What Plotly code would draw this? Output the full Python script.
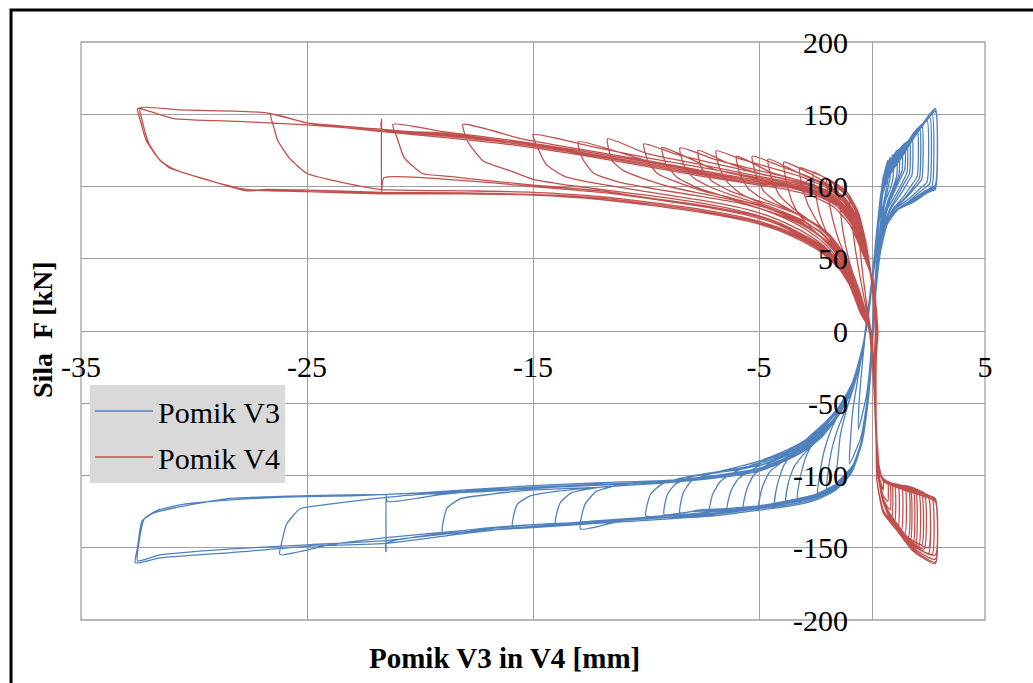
import plotly.graph_objects as go

# ---------------- data ----------------
# Axis settings / tick labels
x_ticks = [-35, -25, -15, -5, 5]
y_ticks = [200, 150, 100, 50, 0, -50, -100, -150, -200]

# Pomik V4 (red): each cycle = list of (displacement [mm], force [kN]) key points
V4_C01 = [(0.15, 0), (0.02, 30), (-0.25, 55), (-0.6, 72), (-0.55, 60), (-0.4, 38), (-0.2, 15), (-0.05, 0),
          (0.08, -35), (0.2, -72), (0.3, -92), (0.25, -85), (0.15, -50), (0.12, -15)]
V4_C02 = [(0.15, 0), (0.0, 32), (-0.25, 60), (-0.6, 82), (-1.0, 93), (-0.92, 80), (-0.75, 58), (-0.5, 35),
          (-0.25, 15), (-0.05, 0), (0.08, -38), (0.2, -78), (0.35, -97), (0.5, -104), (0.5, -110), (0.35, -103),
          (0.2, -80), (0.12, -40), (0.12, -12)]
V4_C03 = [(0.16, 0), (0.0, 32), (-0.27, 60), (-0.65, 82), (-1.0, 92), (-1.5, 101), (-1.42, 86), (-1.25, 66),
          (-1.0, 48), (-0.6, 28), (-0.3, 12), (-0.08, 0), (0.08, -38), (0.2, -80), (0.35, -98), (0.55, -103),
          (0.7, -105), (0.7, -118), (0.5, -114), (0.3, -100), (0.17, -70), (0.12, -30), (0.13, -8)]
V4_C03B = [(0.17, 0), (0.01, 34), (-0.28, 62), (-0.66, 84), (-1.1, 96), (-1.5, 101), (-2.0, 105), (-1.92, 92),
           (-1.75, 78), (-1.45, 62), (-1.0, 46), (-0.55, 25), (-0.12, 0), (0.08, -38), (0.2, -80), (0.36, -99),
           (0.6, -104), (0.8, -106), (0.8, -124), (0.55, -118), (0.32, -104), (0.18, -75), (0.13, -35),
           (0.15, -8)]
V4_C04 = [(0.17, 0), (0.0, 32), (-0.3, 60), (-0.7, 82), (-1.1, 93), (-1.8, 103), (-2.6, 110), (-2.5, 96),
          (-2.3, 80), (-2.0, 68), (-1.5, 55), (-1.0, 40), (-0.5, 20), (-0.1, 0), (0.08, -38), (0.2, -80),
          (0.37, -99), (0.6, -104), (0.88, -106), (0.88, -129), (0.6, -121), (0.35, -108), (0.2, -80),
          (0.13, -40), (0.14, -10)]
V4_C04B = [(0.18, 0), (0.0, 34), (-0.3, 60), (-0.7, 82), (-1.15, 94), (-1.8, 104), (-2.5, 109), (-3.2, 113),
           (-3.1, 101), (-2.85, 88), (-2.4, 75), (-1.8, 63), (-1.2, 49), (-0.7, 31), (-0.3, 12), (-0.08, 0),
           (0.08, -38), (0.21, -82), (0.38, -100), (0.65, -105), (1.0, -107), (1.0, -132), (0.7, -125),
           (0.4, -112), (0.22, -90), (0.14, -50), (0.14, -15)]
V4_C05 = [(0.18, 0), (0.0, 33), (-0.3, 58), (-0.7, 80), (-1.2, 92), (-2.0, 102), (-3.0, 111), (-3.9, 117),
          (-3.8, 104), (-3.55, 90), (-3.2, 80), (-2.6, 70), (-2.0, 61), (-1.4, 50), (-0.9, 36), (-0.45, 18),
          (-0.1, 0), (0.08, -38), (0.21, -82), (0.4, -100), (0.7, -105), (1.15, -107), (1.15, -136),
          (0.8, -128), (0.45, -116), (0.25, -97), (0.15, -60), (0.13, -25), (0.16, -5)]
V4_C05B = [(0.19, 0), (0.01, 33), (-0.31, 58), (-0.76, 80), (-1.3, 92), (-2.1, 101), (-3.2, 109), (-4.6, 119),
           (-4.45, 106), (-4.1, 94), (-3.5, 85), (-2.8, 77), (-2.1, 69), (-1.4, 57), (-0.85, 40), (-0.4, 20),
           (-0.1, 0), (0.08, -38), (0.22, -83), (0.42, -101), (0.8, -105), (1.3, -107), (1.3, -138),
           (0.9, -130), (0.5, -119), (0.26, -98), (0.15, -60), (0.14, -22), (0.17, -5)]
V4_C06 = [(0.19, 0), (0.02, 33), (-0.3, 58), (-0.75, 80), (-1.25, 92), (-2.0, 101), (-3.0, 108), (-4.2, 115),
          (-5.3, 121), (-5.15, 109), (-4.8, 97), (-4.2, 89), (-3.4, 82), (-2.6, 75), (-1.9, 67), (-1.3, 55),
          (-0.8, 38), (-0.4, 18), (-0.1, 0), (0.08, -38), (0.22, -83), (0.42, -101), (0.8, -105), (1.2, -107),
          (1.46, -108), (1.46, -140), (1.0, -131), (0.55, -120), (0.28, -100), (0.16, -62), (0.14, -25),
          (0.17, -5)]
V4_C06B = [(0.2, 0), (0.03, 33), (-0.34, 56), (-0.8, 77), (-1.35, 89), (-2.1, 97), (-3.2, 104), (-4.5, 110),
           (-6.0, 121), (-5.85, 109), (-5.5, 99), (-4.9, 92), (-4.0, 86), (-3.1, 79), (-2.3, 71), (-1.6, 60),
           (-1.0, 44), (-0.5, 22), (-0.1, 0), (0.08, -38), (0.23, -85), (0.44, -102), (0.9, -106), (1.6, -108),
           (1.6, -143), (1.1, -135), (0.6, -123), (0.28, -101), (0.16, -62), (0.15, -25), (0.18, -5)]
V4_C07 = [(0.2, 0), (0.02, 33), (-0.32, 57), (-0.78, 79), (-1.3, 91), (-2.0, 99), (-3.0, 106), (-4.5, 113),
          (-5.8, 119), (-6.9, 124.6), (-6.75, 113), (-6.4, 103), (-5.8, 95), (-5.0, 89), (-4.0, 83), (-3.0, 76),
          (-2.2, 67), (-1.5, 55), (-0.9, 38), (-0.45, 18), (-0.1, 0), (0.08, -38), (0.23, -85), (0.45, -102),
          (0.9, -106), (1.68, -109), (1.68, -147), (1.2, -138), (0.6, -123), (0.28, -102), (0.16, -62),
          (0.15, -25), (0.18, -5)]
V4_C07B = [(0.21, 0), (0.03, 33), (-0.35, 56), (-0.82, 77), (-1.4, 89), (-2.2, 97), (-3.3, 103), (-5.0, 109),
           (-6.5, 117), (-7.7, 125), (-7.55, 113), (-7.1, 104), (-6.3, 97), (-5.2, 91), (-4.2, 86), (-3.2, 80),
           (-2.3, 72), (-1.6, 61), (-1.0, 45), (-0.5, 23), (-0.1, 0), (0.09, -38), (0.24, -86), (0.46, -102),
           (1.0, -106), (1.8, -109), (1.8, -149), (1.2, -139), (0.65, -125), (0.3, -104), (0.17, -63),
           (0.16, -25), (0.19, -5)]
V4_C08 = [(0.2, 0), (0.03, 33), (-0.33, 57), (-0.8, 78), (-1.3, 90), (-2.1, 98), (-3.2, 104), (-5.0, 111),
          (-7.0, 119), (-8.5, 126.7), (-8.3, 114), (-7.9, 106), (-7.2, 100), (-6.2, 94), (-5.2, 89), (-4.2, 83),
          (-3.2, 76), (-2.3, 66), (-1.6, 55), (-1.0, 40), (-0.5, 20), (-0.1, 0), (0.09, -38), (0.24, -86),
          (0.46, -102), (1.0, -106), (1.9, -109), (1.9, -152), (1.3, -141), (0.7, -127), (0.3, -104),
          (0.17, -63), (0.16, -25), (0.19, -5)]
V4_C08B = [(0.21, 0), (0.04, 33), (-0.36, 56), (-0.83, 77), (-1.4, 88), (-2.2, 95), (-3.3, 100), (-5.0, 105),
           (-7.0, 112), (-9.3, 127), (-9.1, 115), (-8.6, 106), (-7.7, 99), (-6.5, 93), (-5.3, 88), (-4.2, 83),
           (-3.2, 77), (-2.3, 69), (-1.6, 58), (-1.0, 43), (-0.5, 22), (-0.1, 0), (0.09, -38), (0.24, -86),
           (0.47, -102), (1.1, -107), (2.05, -111), (2.05, -150), (1.4, -141), (0.75, -128), (0.33, -106),
           (0.18, -64), (0.17, -25), (0.2, -5)]
V4_C09 = [(0.21, 0), (0.03, 33), (-0.35, 57), (-0.8, 78), (-1.35, 89), (-2.1, 97), (-3.2, 103), (-5.0, 109),
          (-7.0, 116), (-8.8, 123), (-10.1, 129.5), (-9.9, 117), (-9.5, 109), (-8.8, 104), (-7.5, 97),
          (-6.2, 92), (-5.0, 87), (-4.0, 81), (-3.0, 73), (-2.2, 64), (-1.5, 52), (-0.95, 38), (-0.5, 19),
          (-0.1, 0), (0.09, -38), (0.24, -86), (0.48, -103), (1.1, -107), (1.9, -109), (2.2, -112),
          (2.2, -148), (1.5, -142), (0.8, -130), (0.35, -108), (0.18, -65), (0.17, -25), (0.2, -5)]
V4_C10 = [(0.22, 0), (0.04, 34), (-0.35, 56), (-0.82, 77), (-1.4, 89), (-2.2, 96), (-3.3, 102), (-5.0, 107),
          (-7.5, 115), (-10.0, 123), (-11.7, 133), (-11.5, 118), (-11.0, 111), (-10.2, 106), (-9.0, 100),
          (-7.5, 95), (-6.0, 90), (-5.0, 85), (-4.0, 79), (-3.0, 71), (-2.2, 62), (-1.5, 50), (-1.0, 38),
          (-0.5, 18), (-0.08, 0), (0.09, -38), (0.25, -87), (0.5, -103), (1.2, -107), (2.0, -110),
          (2.5, -115), (2.5, -154), (1.7, -146), (0.9, -133), (0.4, -112), (0.2, -70), (0.18, -25), (0.21, -5)]
V4_C10B = [(0.23, 0), (0.05, 34), (-0.37, 55), (-0.86, 76), (-1.45, 87), (-2.3, 94), (-3.4, 99), (-5.0, 103),
           (-7.5, 110), (-10.0, 118), (-13.0, 131), (-12.8, 119), (-12.3, 109), (-11.2, 103), (-9.5, 98),
           (-7.5, 93), (-6.0, 89), (-4.8, 84), (-3.7, 78), (-2.7, 70), (-1.9, 61), (-1.2, 48), (-0.6, 27),
           (-0.12, 0), (0.1, -38), (0.25, -87), (0.5, -104), (1.3, -108), (2.3, -112), (2.3, -151),
           (1.6, -144), (0.85, -131), (0.38, -110), (0.2, -68), (0.18, -25), (0.22, -5)]
V4_C11 = [(0.22, 0), (0.04, 34), (-0.36, 56), (-0.85, 77), (-1.4, 88), (-2.2, 96), (-3.3, 101), (-5.0, 106),
          (-7.5, 113), (-10.0, 120), (-12.5, 128), (-15.0, 136), (-14.8, 127), (-14.4, 115), (-13.6, 107),
          (-12.5, 103), (-11.0, 99), (-9.0, 94), (-7.0, 89), (-5.5, 84), (-4.3, 78), (-3.2, 70), (-2.3, 61),
          (-1.5, 49), (-1.0, 37), (-0.5, 17), (-0.06, 0), (0.1, -38), (0.25, -87), (0.5, -104), (1.3, -108),
          (2.1, -111), (2.5, -114), (2.5, -150), (1.7, -144), (0.9, -132), (0.4, -112), (0.2, -70),
          (0.18, -25), (0.22, -5)]
V4_C12 = [(0.23, 0), (0.05, 34), (-0.37, 56), (-0.87, 76), (-1.45, 88), (-2.3, 95), (-3.4, 100), (-5.0, 104),
          (-7.5, 111), (-10.0, 118), (-13.0, 126), (-15.5, 133), (-18.1, 143), (-17.9, 131.5), (-17.2, 117.6),
          (-16.0, 110.8), (-15.0, 105), (-13.0, 100), (-11.0, 96), (-9.0, 92), (-7.0, 87), (-5.5, 82),
          (-4.3, 76), (-3.2, 68), (-2.3, 60), (-1.5, 48), (-1.0, 36), (-0.5, 16), (-0.05, 0), (0.1, -38),
          (0.25, -88), (0.5, -104), (1.4, -108), (2.2, -112), (2.65, -115), (2.65, -155), (1.8, -148),
          (1.0, -135), (0.45, -115), (0.2, -72), (0.18, -25), (0.22, -5)]
V4_C13 = [(0.24, 0), (0.05, 34), (-0.38, 55), (-0.9, 76), (-1.5, 88), (-2.3, 95), (-3.5, 100), (-5.0, 103),
          (-7.5, 110), (-10.0, 117), (-13.0, 125), (-16.0, 132), (-19.0, 138), (-21.2, 143), (-21.0, 133),
          (-20.7, 120), (-19.9, 109), (-18.7, 107), (-17.0, 104), (-15.0, 101), (-12.0, 97), (-9.8, 92),
          (-7.5, 87), (-5.5, 81), (-4.2, 75), (-3.2, 67), (-2.3, 59), (-1.5, 47), (-1.0, 35), (-0.5, 15),
          (-0.05, 0), (0.1, -38), (0.26, -88), (0.5, -104), (1.5, -109), (2.3, -113), (2.8, -116), (2.8, -158),
          (1.8, -150), (0.9, -133), (0.5, -124), (0.22, -104), (0.18, -60), (0.18, -20), (0.22, -5)]
V4_C14 = [(0.24, 0), (0.06, 34), (-0.38, 55), (-0.9, 75), (-1.5, 87), (-2.4, 94), (-3.5, 99), (-5.0, 103),
          (-7.5, 109), (-10.0, 116), (-13.0, 124), (-16.0, 131), (-19.0, 137), (-21.7, 140), (-21.7, 146.7),
          (-21.7, 96), (-21.6, 106), (-18.0, 104), (-15.0, 100), (-12.0, 96), (-10.0, 92), (-7.5, 86),
          (-5.5, 80), (-4.2, 74), (-3.2, 66), (-2.3, 58), (-1.5, 46), (-1.0, 34), (-0.5, 14), (-0.04, 0),
          (0.1, -38), (0.26, -88), (0.5, -104), (1.5, -109), (2.3, -113), (2.8, -117), (2.8, -155),
          (1.8, -149), (1.0, -136), (0.5, -125), (0.22, -104), (0.18, -60), (0.18, -20), (0.23, -5)]
V4_C15 = [(0.25, 0), (0.06, 34), (-0.4, 55), (-0.9, 75), (-1.5, 87), (-2.4, 94), (-3.5, 99), (-5.0, 103),
          (-7.5, 109), (-10.0, 116), (-13.0, 124), (-16.0, 131), (-19.0, 136), (-22.0, 140), (-25.0, 144),
          (-26.6, 150), (-26.45, 140), (-26.3, 132), (-25.8, 120), (-25.0, 109), (-23.8, 104), (-21.8, 98),
          (-18.0, 97), (-15.0, 96), (-12.0, 93), (-9.8, 89), (-7.5, 84), (-5.5, 78), (-4.2, 72), (-3.2, 65),
          (-2.3, 57), (-1.5, 46), (-1.0, 34), (-0.5, 14), (-0.04, 0), (0.1, -38), (0.26, -88), (0.5, -104),
          (1.6, -110), (2.4, -114), (2.8, -117), (2.8, -160), (1.8, -151), (1.1, -138), (0.5, -126),
          (0.22, -104), (0.18, -60), (0.18, -20), (0.24, -5)]
V4_C16 = [(0.25, 0), (0.07, 34), (-0.4, 55), (-0.95, 75), (-1.6, 87), (-2.5, 94), (-3.6, 99), (-5.0, 102),
          (-7.5, 108), (-10.0, 115), (-13.0, 123), (-16.0, 130), (-19.0, 135), (-22.0, 139), (-25.0, 142.6),
          (-28.0, 145), (-30.9, 147), (-32.5, 154), (-32.4, 147), (-32.1, 131.5), (-31.6, 120), (-31.1, 113),
          (-29.7, 106), (-27.7, 97), (-26.8, 98), (-25.0, 97.5), (-21.7, 96), (-18.0, 95.5), (-15.0, 94.5),
          (-12.0, 92), (-9.8, 88), (-7.5, 83), (-5.5, 77), (-4.2, 71), (-3.2, 64), (-2.3, 56), (-1.5, 45),
          (-1.0, 33), (-0.5, 13), (-0.03, 0), (0.1, -38), (0.26, -88), (0.5, -104), (1.6, -111), (2.4, -115),
          (2.8, -118), (2.8, -161), (1.8, -152), (1.1, -138), (0.5, -126), (0.22, -104), (0.18, -60),
          (0.18, -20), (0.25, -5)]
V4_C17 = [(0.26, 0), (0.07, 33), (-0.42, 54), (-1.0, 74), (-1.7, 86), (-2.6, 93), (-3.8, 98), (-5.0, 101),
          (-7.5, 107), (-10.0, 114), (-13.0, 122), (-16.0, 129), (-19.0, 134), (-22.0, 138.5), (-25.0, 144),
          (-26.8, 151), (-30.6, 153), (-32.4, 154.4), (-32.3, 146), (-32.0, 130), (-31.5, 118), (-30.9, 112),
          (-29.5, 105), (-27.7, 98), (-25.0, 96.5), (-21.7, 95), (-18.0, 95), (-15.0, 94), (-12.0, 91),
          (-9.8, 87), (-7.5, 82), (-5.5, 76), (-4.2, 70), (-3.2, 63), (-2.3, 55), (-1.5, 44), (-1.0, 32),
          (-0.5, 12), (-0.02, 0)]

# Pomik V3 (blue): each cycle = list of (displacement [mm], force [kN]) key points
V3_C01 = [(-0.25, 0), (-0.08, 20), (0.08, 45), (0.22, 70), (0.35, 88), (0.32, 78), (0.22, 55), (0.12, 30),
          (0.03, 5), (-0.08, -22), (-0.25, -45), (-0.6, -68), (-0.58, -52), (-0.5, -35), (-0.4, -18), (-0.3, -3)]
V3_C02 = [(-0.2, 12), (0.02, 38), (0.18, 64), (0.33, 86), (0.5, 108), (0.46, 95), (0.38, 75), (0.25, 52),
          (0.13, 28), (0.04, 5), (-0.06, -22), (-0.22, -48), (-0.5, -74), (-1.0, -92), (-0.95, -75),
          (-0.85, -55), (-0.65, -35), (-0.42, -14), (-0.3, 0)]
V3_C03 = [(-0.18, 14), (0.03, 40), (0.19, 66), (0.35, 90), (0.5, 106), (0.7, 118), (0.7, 104), (0.6, 96),
          (0.45, 82), (0.3, 60), (0.15, 32), (0.05, 6), (-0.05, -22), (-0.2, -50), (-0.45, -76), (-0.85, -93),
          (-1.6, -105), (-1.52, -90), (-1.4, -72), (-1.15, -56), (-0.85, -40), (-0.5, -20), (-0.3, -2)]
V3_C03B = [(-0.18, 14), (0.03, 41), (0.2, 67), (0.36, 90), (0.52, 105), (0.8, 120), (0.8, 106), (0.68, 97),
           (0.52, 84), (0.33, 62), (0.16, 33), (0.05, 6), (-0.05, -24), (-0.22, -52), (-0.5, -78), (-0.9, -95),
           (-1.4, -104), (-2.0, -110), (-1.92, -95), (-1.75, -80), (-1.45, -65), (-1.05, -50), (-0.7, -33),
           (-0.45, -15), (-0.3, -2)]
V3_C04 = [(-0.17, 15), (0.04, 42), (0.2, 68), (0.36, 90), (0.52, 105), (0.75, 116), (0.93, 122), (0.93, 106),
          (0.8, 98), (0.6, 90), (0.45, 78), (0.3, 58), (0.15, 32), (0.05, 6), (-0.05, -22), (-0.2, -50),
          (-0.45, -76), (-0.85, -93), (-1.5, -105), (-2.4, -114), (-2.3, -98), (-2.1, -82), (-1.8, -68),
          (-1.3, -52), (-0.85, -37), (-0.5, -18), (-0.3, -2)]
V3_C05 = [(-0.16, 16), (0.05, 43), (0.21, 69), (0.37, 91), (0.55, 106), (0.8, 116), (1.1, 125), (1.1, 108),
          (0.95, 100), (0.7, 90), (0.5, 78), (0.32, 58), (0.16, 32), (0.05, 6), (-0.05, -22), (-0.2, -50),
          (-0.46, -77), (-0.85, -94), (-1.5, -106), (-2.4, -113), (-3.3, -118), (-3.2, -103), (-2.95, -88),
          (-2.5, -74), (-1.9, -62), (-1.3, -50), (-0.85, -36), (-0.5, -17), (-0.3, -2)]
V3_C05B = [(-0.16, 16), (0.05, 43), (0.21, 69), (0.37, 91), (0.55, 106), (0.85, 117), (1.2, 126), (1.2, 109),
           (1.02, 101), (0.75, 91), (0.52, 78), (0.33, 58), (0.16, 32), (0.05, 6), (-0.05, -23), (-0.21, -52),
           (-0.48, -79), (-0.9, -97), (-1.6, -108), (-2.6, -115), (-3.8, -119), (-3.7, -105), (-3.45, -94),
           (-2.95, -84), (-2.3, -74), (-1.6, -61), (-1.0, -45), (-0.55, -24), (-0.3, -3)]
V3_C06 = [(-0.15, 17), (0.06, 44), (0.22, 70), (0.38, 92), (0.56, 106), (0.85, 117), (1.1, 123), (1.33, 128),
          (1.33, 111), (1.15, 104), (0.9, 95), (0.65, 86), (0.48, 74), (0.32, 56), (0.16, 30), (0.05, 5),
          (-0.05, -22), (-0.21, -50), (-0.47, -77), (-0.87, -94), (-1.5, -106), (-2.4, -113), (-3.4, -117),
          (-4.3, -121), (-4.2, -107), (-3.9, -93), (-3.4, -82), (-2.7, -72), (-2.0, -62), (-1.35, -50),
          (-0.85, -35), (-0.5, -16), (-0.3, -2)]
V3_C06B = [(-0.15, 17), (0.06, 44), (0.22, 70), (0.39, 92), (0.57, 106), (0.9, 118), (1.45, 130), (1.45, 112),
           (1.25, 105), (0.95, 95), (0.68, 86), (0.5, 74), (0.32, 56), (0.16, 30), (0.05, 5), (-0.05, -24),
           (-0.22, -53), (-0.5, -80), (-0.95, -99), (-1.7, -110), (-2.7, -116), (-3.8, -119), (-5.0, -122),
           (-4.85, -108), (-4.55, -98), (-4.0, -91), (-3.2, -84), (-2.4, -75), (-1.7, -63), (-1.1, -47),
           (-0.6, -26), (-0.3, -3)]
V3_C07 = [(-0.14, 18), (0.07, 45), (0.23, 71), (0.4, 93), (0.58, 106), (0.9, 117), (1.2, 124), (1.55, 131),
          (1.55, 110), (1.35, 103), (1.0, 93), (0.7, 85), (0.5, 73), (0.32, 55), (0.16, 30), (0.05, 5),
          (-0.05, -22), (-0.21, -50), (-0.48, -77), (-0.9, -95), (-1.6, -106), (-2.5, -113), (-3.5, -117),
          (-4.6, -120), (-5.7, -123.5), (-5.55, -110), (-5.25, -100), (-4.6, -92), (-3.8, -84), (-3.0, -76),
          (-2.2, -66), (-1.5, -53), (-0.9, -37), (-0.5, -17), (-0.3, -2)]
V3_C07B = [(-0.14, 18), (0.07, 45), (0.23, 71), (0.4, 93), (0.59, 106), (0.95, 117), (1.3, 125), (1.66, 132),
           (1.66, 109), (1.45, 103), (1.1, 93), (0.8, 85), (0.53, 73), (0.33, 55), (0.17, 30), (0.06, 5),
           (-0.04, -24), (-0.21, -53), (-0.5, -80), (-0.95, -99), (-1.7, -110), (-2.7, -116), (-3.8, -119),
           (-5.0, -122), (-6.4, -124), (-6.25, -111), (-5.9, -102), (-5.2, -95), (-4.3, -89), (-3.4, -82),
           (-2.5, -73), (-1.7, -61), (-1.05, -45), (-0.55, -23), (-0.3, -2)]
V3_C08 = [(-0.13, 18), (0.08, 45), (0.24, 71), (0.41, 93), (0.6, 106), (0.95, 117), (1.35, 126), (1.77, 134),
          (1.77, 108), (1.55, 102), (1.2, 93), (0.85, 85), (0.55, 73), (0.33, 55), (0.17, 30), (0.06, 5),
          (-0.04, -22), (-0.2, -50), (-0.48, -77), (-0.9, -95), (-1.6, -106), (-2.5, -113), (-3.6, -117),
          (-5.0, -121), (-6.2, -124), (-7.2, -127), (-7.05, -113), (-6.7, -104), (-6.0, -97), (-5.0, -91),
          (-4.0, -85), (-3.0, -77), (-2.2, -67), (-1.5, -54), (-0.9, -38), (-0.5, -18), (-0.3, -2)]
V3_C09 = [(-0.12, 19), (0.09, 46), (0.25, 72), (0.42, 93), (0.62, 106), (1.0, 118), (1.5, 129), (2.0, 140),
          (2.0, 107), (1.75, 101), (1.4, 93), (0.95, 85), (0.6, 74), (0.34, 55), (0.17, 30), (0.06, 5),
          (-0.04, -22), (-0.2, -50), (-0.47, -77), (-0.9, -96), (-1.6, -107), (-2.5, -114), (-3.6, -118),
          (-5.0, -121), (-6.5, -123), (-7.7, -124), (-8.5, -126), (-8.35, -112), (-8.0, -104), (-7.2, -99),
          (-6.2, -95), (-5.0, -90), (-4.0, -84), (-3.0, -76), (-2.2, -66), (-1.5, -53), (-0.9, -37),
          (-0.5, -17), (-0.3, -2)]
V3_C09B = [(-0.12, 19), (0.09, 46), (0.26, 72), (0.43, 93), (0.63, 106), (1.0, 118), (1.55, 130), (2.1, 141),
           (2.1, 106), (1.85, 100), (1.45, 92), (1.0, 85), (0.62, 74), (0.35, 55), (0.18, 30), (0.07, 5),
           (-0.03, -23), (-0.19, -51), (-0.46, -78), (-0.9, -97), (-1.6, -108), (-2.5, -115), (-3.6, -119),
           (-5.0, -122), (-6.5, -124), (-8.0, -125), (-9.2, -127), (-9.05, -113), (-8.7, -106), (-8.0, -101),
           (-6.8, -98), (-5.6, -95), (-4.5, -91), (-3.5, -84), (-2.6, -75), (-1.8, -63), (-1.1, -46),
           (-0.55, -22), (-0.3, -2)]
V3_C10 = [(-0.12, 19), (0.09, 46), (0.26, 72), (0.43, 93), (0.64, 106), (1.05, 118), (1.6, 131), (2.2, 143),
          (2.2, 105), (1.95, 100), (1.5, 92), (1.0, 85), (0.62, 74), (0.35, 55), (0.18, 30), (0.07, 5),
          (-0.03, -22), (-0.19, -50), (-0.46, -77), (-0.9, -96), (-1.6, -107), (-2.5, -114), (-3.6, -118),
          (-5.0, -121), (-6.5, -123), (-8.0, -125), (-10.0, -128), (-9.8, -113), (-9.3, -106), (-8.5, -102),
          (-7.5, -99), (-6.2, -96), (-5.0, -92), (-4.0, -86), (-3.0, -78), (-2.2, -68), (-1.5, -55),
          (-0.9, -39), (-0.5, -18), (-0.3, -2)]
V3_C11 = [(-0.11, 20), (0.1, 47), (0.27, 73), (0.44, 94), (0.66, 106), (1.1, 118), (1.7, 132), (2.43, 146),
          (2.43, 103), (2.15, 99), (1.6, 91), (1.05, 85), (0.64, 74), (0.36, 55), (0.18, 30), (0.07, 5),
          (-0.03, -22), (-0.19, -50), (-0.45, -77), (-0.9, -97), (-1.6, -108), (-2.5, -115), (-3.6, -119),
          (-5.0, -122), (-7.0, -125), (-9.0, -128), (-11.0, -131), (-12.9, -137), (-12.7, -120), (-12.2, -111),
          (-11.0, -106), (-9.5, -104), (-8.0, -102), (-6.5, -99), (-5.0, -95), (-4.0, -89), (-3.0, -80),
          (-2.2, -70), (-1.5, -57), (-0.9, -40), (-0.5, -19), (-0.3, -2)]
V3_C11B = [(-0.11, 20), (0.1, 47), (0.27, 73), (0.45, 94), (0.67, 106), (1.12, 118), (1.8, 133), (2.55, 148),
           (2.55, 102), (2.25, 98), (1.65, 90), (1.08, 84), (0.65, 74), (0.36, 55), (0.18, 30), (0.07, 5),
           (-0.03, -23), (-0.19, -51), (-0.45, -78), (-0.9, -97), (-1.6, -108), (-2.5, -115), (-3.6, -119),
           (-5.0, -122), (-7.0, -125), (-9.0, -128), (-11.5, -131), (-14.0, -134), (-13.8, -119), (-13.3, -112),
           (-12.0, -108), (-10.0, -106), (-8.0, -103), (-6.5, -100), (-5.0, -95), (-4.0, -89), (-3.0, -81),
           (-2.2, -71), (-1.5, -57), (-0.9, -40), (-0.5, -19), (-0.3, -2)]
V3_C12 = [(-0.1, 20), (0.11, 47), (0.28, 73), (0.45, 94), (0.68, 106), (1.15, 118), (1.9, 135), (2.65, 150),
          (2.65, 100), (2.35, 97), (1.7, 90), (1.1, 84), (0.66, 74), (0.37, 55), (0.19, 30), (0.08, 5),
          (-0.02, -22), (-0.18, -50), (-0.44, -77), (-0.9, -97), (-1.6, -108), (-2.5, -115), (-3.6, -119),
          (-5.0, -122), (-7.0, -126), (-9.0, -128), (-11.0, -130), (-13.5, -133), (-15.9, -136),
          (-15.7, -120), (-15.1, -114), (-13.9, -110.8), (-12.0, -108), (-10.0, -106), (-8.4, -104),
          (-6.5, -100), (-5.0, -96), (-4.0, -90), (-3.0, -82), (-2.2, -72), (-1.5, -58), (-0.9, -41),
          (-0.5, -20), (-0.3, -2)]
V3_C13 = [(-0.1, 21), (0.11, 48), (0.28, 74), (0.46, 95), (0.7, 107), (1.2, 119), (2.0, 138), (2.8, 153),
          (2.8, 98), (2.5, 96), (1.8, 89), (1.15, 84), (0.68, 74), (0.38, 55), (0.19, 30), (0.08, 5),
          (-0.02, -22), (-0.18, -50), (-0.44, -77), (-0.9, -98), (-1.6, -109), (-2.5, -116), (-3.6, -120),
          (-5.0, -123), (-7.0, -127), (-9.0, -129), (-12.0, -132), (-15.0, -134), (-17.0, -137), (-19.0, -140),
          (-18.8, -122.5), (-18.2, -116), (-16.9, -113), (-15.0, -110), (-12.0, -108), (-10.0, -106),
          (-8.4, -104), (-6.5, -101), (-5.0, -97), (-4.0, -91), (-3.0, -83), (-2.2, -73), (-1.5, -59),
          (-0.9, -42), (-0.5, -21), (-0.3, -3)]
V3_C14 = [(-0.1, 21), (0.12, 48), (0.29, 74), (0.47, 95), (0.72, 107), (1.25, 119), (2.0, 137), (2.8, 152),
          (2.8, 101), (2.5, 98), (1.8, 90), (1.15, 84), (0.68, 74), (0.38, 55), (0.19, 30), (0.08, 5),
          (-0.02, -22), (-0.18, -50), (-0.44, -77), (-0.9, -98), (-1.6, -109), (-2.5, -116), (-3.6, -120),
          (-5.0, -123), (-7.0, -127), (-9.0, -129), (-12.0, -132), (-15.0, -134), (-18.0, -138),
          (-21.5, -147), (-21.5, -153), (-21.5, -113), (-21.45, -118), (-19.0, -113), (-16.0, -109),
          (-13.0, -107), (-10.0, -105), (-8.4, -103), (-6.5, -100), (-5.0, -96), (-4.0, -90), (-3.0, -82),
          (-2.2, -72), (-1.5, -58), (-0.9, -41), (-0.5, -20), (-0.3, -2)]
V3_C15 = [(-0.09, 22), (0.12, 48), (0.29, 74), (0.47, 95), (0.72, 107), (1.25, 119), (2.0, 138), (2.8, 153),
          (2.8, 99), (2.5, 97), (1.8, 89), (1.15, 84), (0.68, 74), (0.38, 55), (0.19, 30), (0.08, 5),
          (-0.02, -22), (-0.18, -50), (-0.44, -77), (-0.9, -98), (-1.6, -109), (-2.5, -116), (-3.6, -120),
          (-5.0, -123), (-7.0, -127), (-9.0, -129), (-12.0, -132), (-15.0, -134), (-18.0, -138),
          (-21.5, -143), (-24.0, -148), (-26.2, -154.6), (-26.1, -145), (-25.9, -133.6), (-25.3, -123),
          (-24.1, -120), (-22.0, -116), (-20.0, -113), (-17.0, -111), (-14.0, -108), (-11.0, -106),
          (-8.4, -103), (-6.5, -100), (-5.0, -96), (-4.0, -89), (-3.0, -81), (-2.2, -71), (-1.5, -57),
          (-0.9, -40), (-0.5, -20), (-0.3, -2)]
V3_C16 = [(-0.09, 22), (0.12, 48), (0.3, 74), (0.48, 95), (0.74, 107), (1.3, 120), (2.0, 138), (2.8, 154),
          (2.8, 98), (2.5, 96), (1.8, 89), (1.15, 84), (0.68, 74), (0.38, 55), (0.19, 30), (0.08, 5),
          (-0.02, -22), (-0.18, -50), (-0.44, -77), (-0.9, -98), (-1.6, -110), (-2.5, -117), (-3.6, -121),
          (-5.0, -124), (-7.0, -128), (-9.0, -130), (-12.0, -133), (-15.0, -135), (-18.0, -140),
          (-21.5, -147), (-25.0, -149), (-28.5, -153.5), (-31.5, -157), (-32.6, -160.4), (-32.5, -150),
          (-32.3, -131.5), (-31.8, -126), (-30.9, -122.5), (-28.5, -116), (-25.0, -114), (-21.5, -113),
          (-18.0, -111), (-15.0, -108), (-12.0, -106), (-8.4, -104), (-6.5, -101), (-5.0, -97), (-4.0, -90),
          (-3.0, -82), (-2.2, -72), (-1.5, -58), (-0.9, -41), (-0.5, -20), (-0.3, -2)]
V3_C17 = [(-0.08, 22), (0.13, 48), (0.3, 74), (0.48, 95), (0.75, 107), (1.3, 120), (2.0, 137), (2.8, 153),
          (2.8, 100), (2.5, 97), (1.8, 90), (1.15, 84), (0.68, 74), (0.38, 55), (0.19, 30), (0.08, 5),
          (-0.02, -22), (-0.18, -50), (-0.44, -77), (-0.9, -98), (-1.6, -110), (-2.5, -117), (-3.6, -121),
          (-5.0, -124), (-7.0, -128), (-9.0, -130), (-12.0, -133), (-15.0, -136), (-18.0, -139),
          (-21.5, -145), (-25.0, -148), (-28.5, -151), (-31.5, -155), (-32.5, -159), (-32.45, -148),
          (-32.2, -130), (-31.6, -124), (-30.5, -120), (-28.5, -117), (-26.0, -115), (-23.0, -114),
          (-20.0, -112), (-15.0, -107), (-12.0, -105), (-8.4, -103), (-6.5, -100), (-5.0, -96), (-4.0, -89),
          (-3.0, -81), (-2.2, -71), (-1.5, -57), (-0.9, -40), (-0.5, -20), (-0.3, -2)]

V4_CYCLES = [V4_C01, V4_C02, V4_C03, V4_C03B, V4_C04, V4_C04B, V4_C05, V4_C05B, V4_C06, V4_C06B,
             V4_C07, V4_C07B, V4_C08, V4_C08B, V4_C09, V4_C10, V4_C10B, V4_C11, V4_C12, V4_C13,
             V4_C14, V4_C15, V4_C16, V4_C17]
V3_CYCLES = [V3_C01, V3_C02, V3_C03, V3_C03B, V3_C04, V3_C05, V3_C05B, V3_C06, V3_C06B, V3_C07,
             V3_C07B, V3_C08, V3_C09, V3_C09B, V3_C10, V3_C11, V3_C11B, V3_C12, V3_C13, V3_C14,
             V3_C15, V3_C16, V3_C17]

series_names = ["Pomik V3", "Pomik V4"]
series_colors = ["#4f81bd", "#c0504d"]


def path(cycles):
    xs, ys = [], []
    for cyc in cycles:
        for d, f in cyc:
            xs.append(d)
            ys.append(f)
    return xs, ys


FONT = "Liberation Serif, Times New Roman, serif"
GRID = "#a0a0a0"

fig = go.Figure()
for name, color, cycles in zip(series_names, series_colors, [V3_CYCLES, V4_CYCLES]):
    xs, ys = path(cycles)
    fig.add_trace(go.Scatter(
        x=xs, y=ys, mode="lines", name=name, legendgroup=name,
        line=dict(color=color, width=1.3, shape="spline", smoothing=0.5),
        hoverinfo="skip",
    ))

fig.update_layout(
    width=1033, height=683,
    margin=dict(l=81, r=48, t=42, b=63),
    paper_bgcolor="white", plot_bgcolor="white",
    font=dict(family=FONT, size=30, color="black"),
    showlegend=True,
    legend=dict(
        x=0.00996, y=0.4066, xanchor="left", yanchor="top",
        bgcolor="#d9d9d9", borderwidth=0,
        font=dict(family=FONT, size=30, color="black"),
        tracegroupgap=4, itemwidth=58,
    ),
    xaxis=dict(
        range=[-35, 5], tickmode="array", tickvals=x_ticks, ticktext=[str(v) for v in x_ticks],
        showgrid=True, gridcolor=GRID, gridwidth=1,
        zeroline=True, zerolinecolor=GRID, zerolinewidth=1.3,
        showline=False, ticks="", anchor="free", position=0.5,
        ticklabelstandoff=15,
        tickfont=dict(family=FONT, size=30, color="black"),
    ),
    yaxis=dict(
        range=[-200, 200], tickmode="array", tickvals=y_ticks, ticktext=[str(v) for v in y_ticks],
        showgrid=True, gridcolor=GRID, gridwidth=1,
        zeroline=True, zerolinecolor=GRID, zerolinewidth=1,
        showline=False, ticks="", anchor="free", position=0.875,
        ticklabelstandoff=24,
        tickfont=dict(family=FONT, size=30, color="black"),
    ),
    shapes=[
        dict(type="rect", xref="paper", yref="paper", x0=0, y0=0, x1=1, y1=1,
             line=dict(color=GRID, width=1.3), layer="below"),
        dict(type="rect", xref="paper", yref="paper", x0=-0.0774, y0=-0.14, x1=1.08, y1=1.0554,
             line=dict(color="black", width=3), layer="above"),
    ],
    annotations=[
        dict(text="<b>Sila  F [kN]</b>", xref="paper", yref="paper", x=-0.0431, y=0.5017,
             xanchor="center", yanchor="middle", textangle=-90, showarrow=False,
             font=dict(family=FONT, size=28, color="black")),
        dict(text="<b>Pomik V3 in V4 [mm]</b>", xref="paper", yref="paper", x=0.469, y=-0.0657,
             xanchor="center", yanchor="middle", showarrow=False,
             font=dict(family=FONT, size=29, color="black")),
    ],
)

fig.write_html("out.html")
